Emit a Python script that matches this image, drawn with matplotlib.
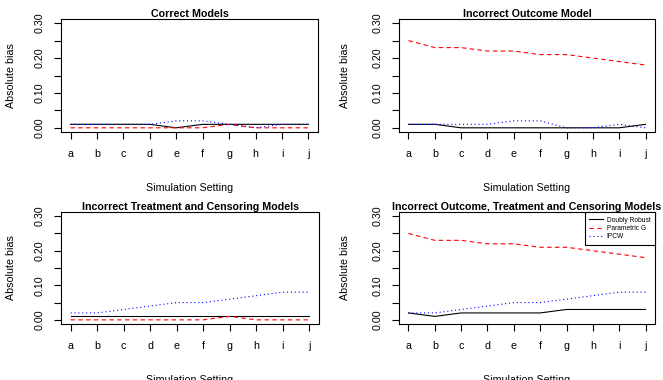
import matplotlib
matplotlib.use('Agg')
import matplotlib.pyplot as plt
import numpy as np

plt.rcParams['font.family'] = ['Liberation Sans', 'DejaVu Sans']

# simulation settings on the x axis
settings = ['a', 'b', 'c', 'd', 'e', 'f', 'g', 'h', 'i', 'j']
titles = ['Correct Models',
          'Incorrect Outcome Model',
          'Incorrect Treatment and Censoring Models',
          'Incorrect Outcome, Treatment and Censoring Models']

# absolute bias, one list per estimator and scenario
dr_correct = [0.01, 0.01, 0.01, 0.01, 0.00, 0.01, 0.01, 0.01, 0.01, 0.01]
pg_correct = [0.00, 0.00, 0.00, 0.00, 0.00, 0.00, 0.01, 0.00, 0.00, 0.00]
ipcw_correct = [0.01, 0.01, 0.01, 0.01, 0.02, 0.02, 0.01, 0.00, 0.01, 0.01]

dr_out = [0.01, 0.01, 0.00, 0.00, 0.00, 0.00, 0.00, 0.00, 0.00, 0.01]
pg_out = [0.25, 0.23, 0.23, 0.22, 0.22, 0.21, 0.21, 0.20, 0.19, 0.18]
ipcw_out = [0.01, 0.01, 0.01, 0.01, 0.02, 0.02, 0.00, 0.00, 0.01, 0.00]

dr_trt = [0.01, 0.01, 0.01, 0.01, 0.01, 0.01, 0.01, 0.01, 0.01, 0.01]
pg_trt = [0.00, 0.00, 0.00, 0.00, 0.00, 0.00, 0.01, 0.00, 0.00, 0.00]
ipcw_trt = [0.02, 0.02, 0.03, 0.04, 0.05, 0.05, 0.06, 0.07, 0.08, 0.08]

dr_all = [0.02, 0.01, 0.02, 0.02, 0.02, 0.02, 0.03, 0.03, 0.03, 0.03]
pg_all = [0.25, 0.23, 0.23, 0.22, 0.22, 0.21, 0.21, 0.20, 0.19, 0.18]
ipcw_all = [0.02, 0.02, 0.03, 0.04, 0.05, 0.05, 0.06, 0.07, 0.08, 0.08]

W, H = 663, 380
fig = plt.figure(figsize=(W / 100, H / 100), dpi=100)

# panel boxes in pixels (left, top, right, bottom)
boxes = [(61, 19, 318, 132), (399, 19, 655, 132),
         (61, 212, 319, 324), (399, 212, 655, 324)]
series = [(dr_correct, pg_correct, ipcw_correct),
          (dr_out, pg_out, ipcw_out),
          (dr_trt, pg_trt, ipcw_trt),
          (dr_all, pg_all, ipcw_all)]
ylab_x = [16, 350, 16, 350]

fs = 7.7
x = np.arange(len(settings))
for k in range(4):
    x0, y0, x1, y1 = boxes[k]
    ax = fig.add_axes([x0 / W, 1 - y1 / H, (x1 - x0) / W, (y1 - y0) / H])
    dr, pg, ipcw = series[k]
    ax.plot(x, dr, color='black', lw=0.8, label='Doubly Robust')
    ax.plot(x, pg, color='red', lw=0.8, dashes=(4, 3), label='Parametric G')
    ax.plot(x, ipcw, color='blue', lw=0.8, dashes=(1, 2.5), label='IPCW')

    ax.set_xlim(-0.36, 9.36)
    ax.set_ylim(-0.012, 0.312)
    ax.set_xticks(x, settings)
    ax.set_yticks([0, 0.1, 0.2, 0.3], ['0.00', '0.10', '0.20', '0.30'])
    ax.set_yticks([0.05, 0.15, 0.25], minor=True)
    ax.tick_params(which='both', direction='out', length=5, width=0.8,
                   labelsize=fs)
    ax.tick_params(axis='x', pad=7.5)
    ax.tick_params(axis='y', pad=6.5)
    for lab in ax.get_yticklabels():
        lab.set_rotation(90)
        lab.set_va('center')
    for sp in ax.spines.values():
        sp.set_linewidth(0.8)

    ax.set_title(titles[k], fontsize=fs, fontweight='bold', pad=1.5)
    ax.set_xlabel('Simulation Setting', fontsize=fs)
    ax.xaxis.set_label_coords(0.5, -51 / (y1 - y0))
    ax.set_ylabel('Absolute bias', fontsize=fs)
    ax.yaxis.set_label_coords((ylab_x[k] - x0) / (x1 - x0), 0.5)

    if k == 3:
        leg = ax.legend(loc='upper right', fontsize=4.8, borderaxespad=0,
                        handlelength=2.0, handletextpad=0.6, labelspacing=0.2,
                        borderpad=0.7, fancybox=False, framealpha=1,
                        edgecolor='black')
        leg.get_frame().set_linewidth(0.8)

fig.savefig('out.png', dpi=100)
